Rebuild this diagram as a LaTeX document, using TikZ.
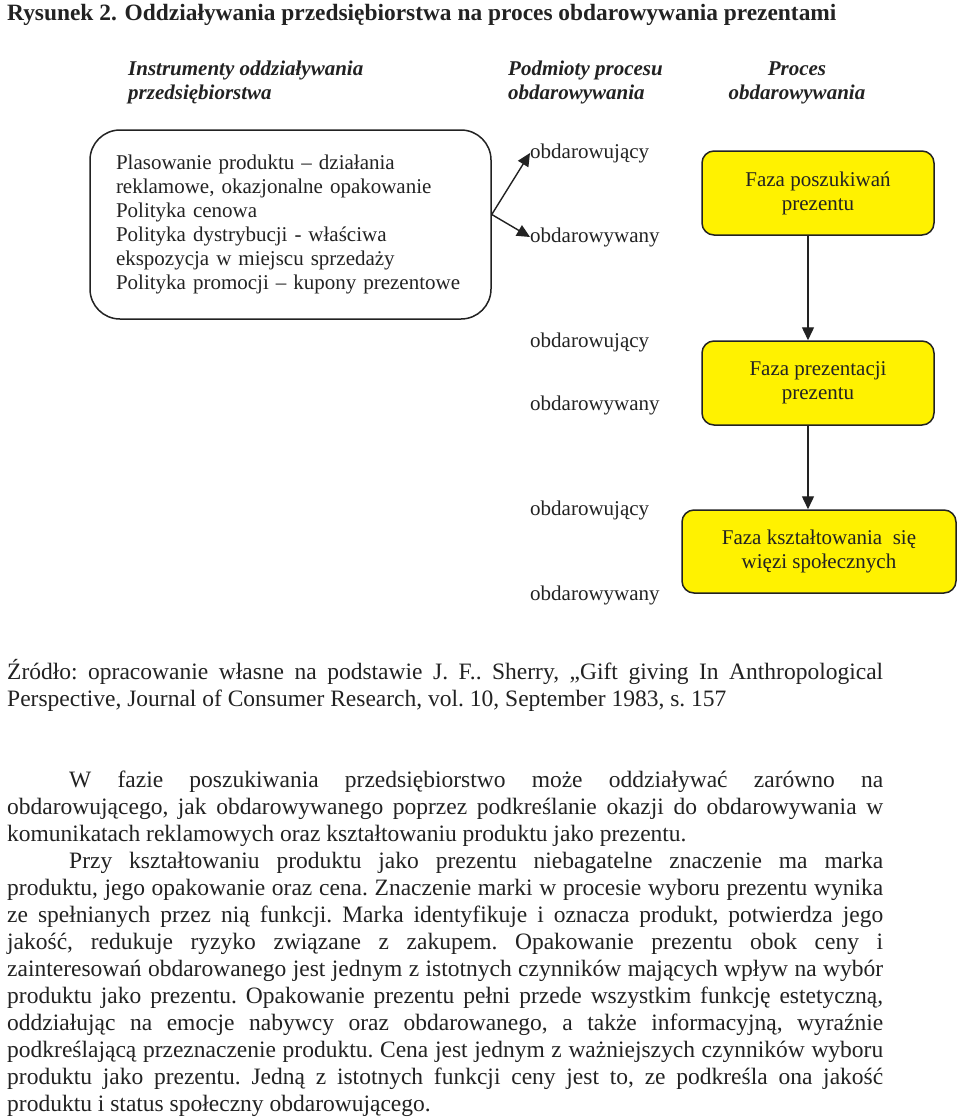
\documentclass[tikz,border=0pt]{standalone}
\usepackage{fontspec}
\setmainfont{Liberation Serif}
\usetikzlibrary{arrows.meta}

\definecolor{ink}{HTML}{222222}
\definecolor{fazafill}{HTML}{FFF200}

\tikzset{
  opis/.style={font=\fontsize{21}{24}\selectfont, text=ink, inner sep=0pt},
  naglowek/.style={font=\fontsize{21}{24}\selectfont\bfseries\itshape, text=ink, inner sep=0pt},
  faza/.style={draw=ink, line width=1.5pt, fill=fazafill, rounded corners=12pt,
    align=center, font=\fontsize{21}{24}\selectfont, text=ink, minimum height=84pt},
  strzalka/.style={draw=ink, line width=1.4pt, -{Triangle[length=13pt,width=12pt]}},
  akapit/.style={font=\fontsize{23.5}{27}\selectfont, text=ink, inner sep=0pt,
    text width=876pt, align=justify, anchor=base west,
    execute at begin node={\frenchspacing\hyphenpenalty=10000\tolerance=9999}},
}

\begin{document}
\begin{tikzpicture}[x=1pt,y=-1pt]
  \fill[white] (0,0) rectangle (960,1117);
  \useasboundingbox (0,0) rectangle (960,1117);

  \node[anchor=base west, inner sep=0pt, text=ink, font=\fontsize{23.4}{27}\selectfont\bfseries]
    (tytul) at (7,20) {Rysunek 2. Oddziaływania przedsiębiorstwa na proces obdarowywania prezentami};

  % naglowki kolumn
  \node[naglowek, align=left, anchor=base west] (kolA) at (128,99) {Instrumenty oddziaływania\\przedsiębiorstwa};
  \node[naglowek, align=left, anchor=base west] (kolB) at (508,99) {Podmioty procesu\\obdarowywania};
  \node[naglowek, align=center, anchor=base] (kolC) at (797,99) {Proces\\obdarowywania};

  % instrumenty
  \node[opis, draw=ink, line width=1.5pt, rounded corners=30pt, text width=349pt,
    inner xsep=26pt, minimum height=189pt, align=left] (instr) at (290.5,224.5)
    {Plasowanie produktu – działania\\reklamowe, okazjonalne opakowanie\\Polityka cenowa\\
     Polityka dystrybucji - właściwa\\ekspozycja w miejscu sprzedaży\\Polityka promocji – kupony prezentowe};

  % podmioty
  \node[opis, anchor=west] (dajacyA) at (530,153) {obdarowujący};
  \node[opis, anchor=west] (obdarowanyA) at (530,237) {obdarowywany};
  \node[opis, anchor=west] (dajacyB) at (530,342) {obdarowujący};
  \node[opis, anchor=west] (obdarowanyB) at (530,405) {obdarowywany};
  \node[opis, anchor=west] (dajacyC) at (530,510) {obdarowujący};
  \node[opis, anchor=west] (obdarowanyC) at (530,595) {obdarowywany};

  % fazy
  \node[faza, minimum width=232pt] (fazaA) at (818,193) {Faza poszukiwań\\prezentu};
  \node[faza, minimum width=232pt] (fazaB) at (818,383) {Faza prezentacji\\prezentu};
  \node[faza, minimum width=274pt, minimum height=83pt] (fazaC) at (819,551.5) {Faza kształtowania~ się\\więzi społecznych};

  \draw[strzalka] ([yshift=10pt]instr.east) -- (dajacyA.west);
  \draw[strzalka] ([yshift=10pt]instr.east) -- (obdarowanyA.west);
  \draw[strzalka] ([xshift=-10pt]fazaA.south) -- ([xshift=-10pt]fazaB.north);
  \draw[strzalka] ([xshift=-10pt]fazaB.south) -- ([xshift=-10pt]fazaB.south |- fazaC.north);

  % zrodlo i tekst
  \node[akapit] (zrodlo) at (7,679) {Źródło: opracowanie własne na podstawie J. F.. Sherry, „Gift giving In Anthropological\linebreak
    Perspective, Journal of Consumer Research, vol. 10, September 1983, s. 157};

  \node[akapit] (akapitA) at (7,787) {\hspace*{62pt}W fazie poszukiwania przedsiębiorstwo może oddziaływać zarówno na\linebreak
    obdarowującego, jak obdarowywanego poprzez podkreślanie okazji do obdarowywania w\linebreak
    komunikatach reklamowych oraz kształtowaniu produktu jako prezentu.};

  \node[akapit] (akapitB) at (7,868) {\hspace*{62pt}Przy kształtowaniu produktu jako prezentu niebagatelne znaczenie ma marka\linebreak
    produktu, jego opakowanie oraz cena. Znaczenie marki w procesie wyboru prezentu wynika\linebreak
    ze spełnianych przez nią funkcji. Marka identyfikuje i oznacza produkt, potwierdza jego\linebreak
    jakość, redukuje ryzyko związane z zakupem. Opakowanie prezentu obok ceny i\linebreak
    zainteresowań obdarowanego jest jednym z istotnych czynników mających wpływ na wybór\linebreak
    produktu jako prezentu. Opakowanie prezentu pełni przede wszystkim funkcję estetyczną,\linebreak
    oddziałując na emocje nabywcy oraz obdarowanego, a także informacyjną, wyraźnie\linebreak
    podkreślającą przeznaczenie produktu. Cena jest jednym z ważniejszych czynników wyboru\linebreak
    produktu jako prezentu. Jedną z istotnych funkcji ceny jest to, ze podkreśla ona jakość\linebreak
    produktu i status społeczny obdarowującego.};
\end{tikzpicture}
\end{document}
